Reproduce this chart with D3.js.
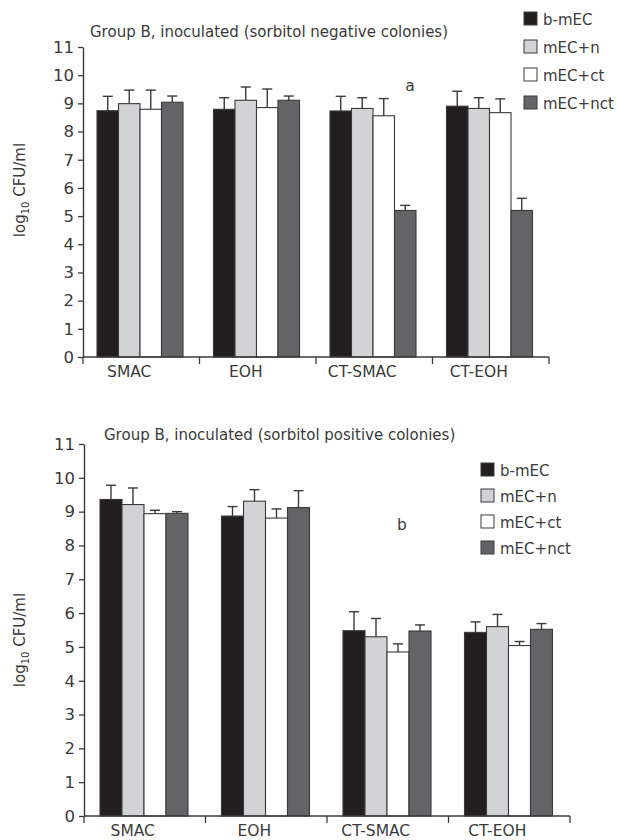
<!DOCTYPE html>
<html>
<head>
<meta charset="utf-8">
<script src="https://cdn.jsdelivr.net/npm/d3@7"></script>
<style>
	body { margin: 0; background: #fff; }
	svg { display: block; font-family: 'DejaVu Sans', sans-serif; }
</style>
</head>
<body>
<svg id="chart" width="619" height="840"></svg>
<script>
// data (log10 CFU/ml), rows = medium, columns = enrichment
const categories = ['SMAC', 'EOH', 'CT-SMAC', 'CT-EOH'];
const seriesNames = ['b-mEC', 'mEC+n', 'mEC+ct', 'mEC+nct'];
const seriesColors = ['#231f20', '#d1d3d4', '#ffffff', '#636466'];
const yTicks = [0, 1, 2, 3, 4, 5, 6, 7, 8, 9, 10, 11];

const negMeans = [
	[8.74, 8.99, 8.79, 9.04],
	[8.79, 9.11, 8.85, 9.11],
	[8.73, 8.82, 8.56, 5.20],
	[8.90, 8.82, 8.67, 5.20]
];
const negErr = [
	[0.51, 0.48, 0.68, 0.22],
	[0.41, 0.47, 0.66, 0.15],
	[0.52, 0.38, 0.61, 0.18],
	[0.53, 0.38, 0.49, 0.43]
];
const posMeans = [
	[9.36, 9.21, 8.94, 8.95],
	[8.87, 9.31, 8.81, 9.12],
	[5.48, 5.30, 4.85, 5.47],
	[5.43, 5.60, 5.04, 5.52]
];
const posErr = [
	[0.42, 0.49, 0.10, 0.05],
	[0.28, 0.34, 0.27, 0.50],
	[0.56, 0.54, 0.24, 0.18],
	[0.31, 0.36, 0.12, 0.17]
];

const axisColor = '#3a3a3a';
const textColor = '#3a3a3a';
const svg = d3.select('#chart');

function drawPanel(opt) {
	var g = svg.append('g');

	var x0 = d3.scaleBand().domain(categories).range([opt.left, opt.right]).padding(0);
	var x1 = d3.scaleBand().domain(seriesNames).range(opt.inner).padding(0);
	var y = d3.scaleLinear().domain([0, 11]).range([opt.bottom, opt.top]);
	var color = d3.scaleOrdinal().domain(seriesNames).range(seriesColors);

	// bars
	var groups = g.selectAll('.grp')
		.data(categories)
		.enter().append('g')
		.attr('class', 'grp')
		.attr('transform', function(d) { return 'translate(' + x0(d) + ',0)'; });

	groups.each(function(cat, ci) {
		var sel = d3.select(this);
		var rows = seriesNames.map(function(s, si) {
			return { name: s, mean: opt.means[ci][si], err: opt.errs[ci][si] };
		});

		// error bars first so bar outline sits on top
		var cap = 5;
		rows.forEach(function(r) {
			var cx = x1(r.name) + x1.bandwidth() / 2;
			sel.append('line')
				.attr('x1', cx).attr('x2', cx)
				.attr('y1', y(r.mean)).attr('y2', y(r.mean + r.err))
				.attr('stroke', axisColor).attr('stroke-width', 1.4);
			sel.append('line')
				.attr('x1', cx - cap).attr('x2', cx + cap)
				.attr('y1', y(r.mean + r.err)).attr('y2', y(r.mean + r.err))
				.attr('stroke', axisColor).attr('stroke-width', 1.4);
		});

		sel.selectAll('rect')
			.data(rows)
			.enter().append('rect')
			.attr('x', function(d) { return x1(d.name); })
			.attr('y', function(d) { return y(d.mean); })
			.attr('width', x1.bandwidth())
			.attr('height', function(d) { return y(0) - y(d.mean); })
			.attr('fill', function(d) { return color(d.name); })
			.attr('stroke', axisColor)
			.attr('stroke-width', 1.1);
	});

	// y axis
	var yAxis = g.append('g')
		.attr('transform', 'translate(' + opt.left + ',0)')
		.call(d3.axisLeft(y).tickValues(yTicks).tickSize(5).tickPadding(4).tickSizeOuter(0));
	yAxis.select('.domain').attr('stroke', axisColor).attr('stroke-width', 1.4);
	yAxis.selectAll('.tick line').attr('stroke', axisColor).attr('stroke-width', 1.3);
	yAxis.selectAll('.tick text')
		.attr('font-family', "'DejaVu Sans', sans-serif")
		.attr('font-size', 16.5).attr('fill', textColor);

	// x axis with ticks at band edges
	var edges = categories.map(function(c) { return x0(c); }).concat([opt.right]);
	g.append('line')
		.attr('x1', opt.left).attr('x2', opt.right)
		.attr('y1', y(0)).attr('y2', y(0))
		.attr('stroke', axisColor).attr('stroke-width', 1.4);
	g.selectAll('.xtick')
		.data(edges)
		.enter().append('line')
		.attr('class', 'xtick')
		.attr('x1', function(d) { return d; }).attr('x2', function(d) { return d; })
		.attr('y1', y(0)).attr('y2', y(0) + 7)
		.attr('stroke', axisColor).attr('stroke-width', 1.3);
	g.selectAll('.xlab')
		.data(categories)
		.enter().append('text')
		.attr('class', 'xlab')
		.attr('x', function(d) { return x0(d) + x0.bandwidth() / 2 - 12; })
		.attr('y', y(0) + 20)
		.attr('text-anchor', 'middle')
		.attr('font-size', 15.5).attr('fill', textColor)
		.text(function(d) { return d; });

	// y label
	var yl = g.append('text')
		.attr('transform', 'translate(' + opt.yLabelX + ',' + opt.yLabelY + ') rotate(-90)')
		.attr('text-anchor', 'middle')
		.attr('font-size', 15).attr('fill', textColor);
	yl.append('tspan').text('log');
	yl.append('tspan').attr('font-size', 10).attr('dy', 4).text('10');
	yl.append('tspan').attr('dy', -4).text(' CFU/ml');

	// title
	g.append('text')
		.attr('x', opt.titleX).attr('y', opt.titleY)
		.attr('font-size', 15).attr('fill', textColor)
		.text(opt.title);

	// annotation letter
	g.append('text')
		.attr('x', opt.noteX).attr('y', opt.noteY)
		.attr('text-anchor', 'middle')
		.attr('font-size', 15.5).attr('fill', textColor)
		.text(opt.note);

	// legend
	var leg = g.selectAll('.leg')
		.data(seriesNames)
		.enter().append('g')
		.attr('class', 'leg')
		.attr('transform', function(d, i) { return 'translate(' + opt.legX + ',' + (opt.legY + i * opt.legStep) + ')'; });
	leg.append('rect')
		.attr('x', 0).attr('y', -7)
		.attr('width', 13).attr('height', 13)
		.attr('fill', function(d) { return color(d); })
		.attr('stroke', axisColor).attr('stroke-width', 1);
	leg.append('text')
		.attr('x', 19).attr('y', 5.5)
		.attr('font-size', 15).attr('fill', textColor)
		.text(function(d) { return d; });
}

drawPanel({
	means: negMeans, errs: negErr,
	left: 83, right: 549, top: 47, bottom: 357, inner: [14, 100],
	title: 'Group B, inoculated (sorbitol negative colonies)', titleX: 90, titleY: 37,
	yLabelX: 25, yLabelY: 190,
	note: 'a', noteX: 410, noteY: 91,
	legX: 524, legY: 19, legStep: 28
});

drawPanel({
	means: posMeans, errs: posErr,
	left: 84, right: 570, top: 444, bottom: 816, inner: [16, 104],
	title: 'Group B, inoculated (sorbitol positive colonies)', titleX: 104, titleY: 440,
	yLabelX: 25, yLabelY: 640,
	note: 'b', noteX: 402, noteY: 530,
	legX: 481, legY: 470, legStep: 26
});
</script>
</body>
</html>
